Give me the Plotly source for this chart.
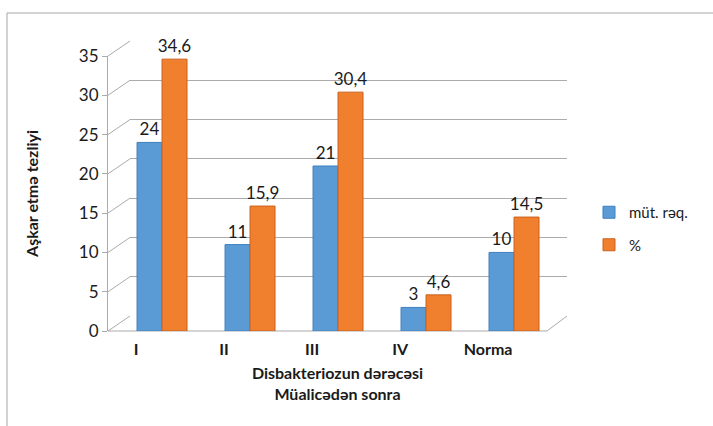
import plotly.graph_objects as go

# ---- data ----
categories = ["I", "II", "III", "IV", "Norma"]
mut_req = [24, 11, 21, 3, 10]
percent = [34.6, 15.9, 30.4, 4.6, 14.5]
series_names = ["müt. rəq.", "%"]
y_ticks = [0, 5, 10, 15, 20, 25, 30, 35]

def fmt(v):
    return f"{v:g}".replace(".", ",")

FONT = "Lato, 'Noto Sans', sans-serif"
TXT = "#1a1a1a"
GRID = "#ABABAB"
BLUE = "#5B9BD5"
ORANGE = "#F07F2E"

# pixel geometry of the canvas
W, H = 713, 426
L, R, T, B = 108, 146, 41, 95
pw = W - L - R   # 459
ph = H - T - B   # 290

def px_x(x):
    return (x - L) / pw

def px_y(y):
    return (H - B - y) / ph

FRONT0, BACK0, SPAN = 331, 316, 275   # pixel rows of the front/back zero and height of 0..35

fig = go.Figure()

# empty trace for the back-wall subplot (gridlines)
fig.add_trace(go.Scatter(x=[], y=[], xaxis="x", yaxis="y", showlegend=False, hoverinfo="skip"))

fig.add_trace(go.Bar(
    x=categories, y=mut_req, name=series_names[0],
    marker=dict(color=BLUE, line=dict(color="#3F7FBF", width=1)),
    text=[fmt(v) for v in mut_req], textposition="outside", constraintext="none",
    textfont=dict(family=FONT, size=17, color=TXT),
    cliponaxis=False, xaxis="x2", yaxis="y2", legendgroup="a",
))
fig.add_trace(go.Bar(
    x=categories, y=percent, name=series_names[1],
    marker=dict(color=ORANGE, line=dict(color="#C9621D", width=1)),
    text=[fmt(v) for v in percent], textposition="outside", constraintext="none",
    textfont=dict(family=FONT, size=17, color=TXT),
    cliponaxis=False, xaxis="x2", yaxis="y2", legendgroup="b",
))
# empty trace for the category-label axis
fig.add_trace(go.Scatter(x=[], y=[], xaxis="x3", yaxis="y2", showlegend=False, hoverinfo="skip"))

shapes = []
# chart border
shapes.append(dict(type="rect", xref="paper", yref="paper",
                   x0=px_x(7), y0=px_y(428), x1=px_x(716), y1=px_y(13),
                   line=dict(color="#A6A6A6", width=1), layer="below"))
# side-wall diagonals at each tick (front axis -> back wall)
for v in y_ticks:
    y_front = FRONT0 - v * SPAN / 35
    y_back = BACK0 - v * SPAN / 35
    shapes.append(dict(type="line", xref="paper", yref="paper",
                       x0=0, y0=px_y(y_front), x1=px_x(130), y1=px_y(y_back),
                       line=dict(color=GRID, width=1), layer="below"))
# floor front edge and right edge
shapes.append(dict(type="line", xref="paper", yref="paper", x0=0, y0=px_y(FRONT0),
                   x1=px_x(547), y1=px_y(FRONT0), line=dict(color=GRID, width=1), layer="below"))
shapes.append(dict(type="line", xref="paper", yref="paper", x0=px_x(547), y0=px_y(FRONT0),
                   x1=px_x(567), y1=px_y(BACK0), line=dict(color=GRID, width=1), layer="below"))

fig.update_layout(
    width=W, height=H, autosize=False,
    margin=dict(l=L, r=R, t=T, b=B),
    paper_bgcolor="white", plot_bgcolor="rgba(0,0,0,0)",
    font=dict(family=FONT, color=TXT),
    barmode="group", bargap=0.432, bargroupgap=0,
    showlegend=True,
    legend=dict(x=px_x(589), y=px_y(196), xanchor="left", yanchor="top",
                font=dict(family=FONT, size=15, color=TXT),
                tracegroupgap=10, itemwidth=30, bgcolor="rgba(0,0,0,0)"),
    shapes=shapes,
    # back wall
    xaxis=dict(domain=[px_x(130), 1], range=[0, 1], visible=False, fixedrange=True),
    yaxis=dict(domain=[px_y(BACK0), 1], range=[0, 35], anchor="x", dtick=5, tick0=0,
               showgrid=True, gridcolor=GRID, gridwidth=1, zeroline=False,
               showticklabels=False, ticks="", showline=False),
    # bars / front axis
    xaxis2=dict(domain=[0, 1], anchor="y2", range=[-0.614, 4.602],
                showticklabels=False, showgrid=False, zeroline=False, showline=False, ticks=""),
    yaxis2=dict(domain=[0, px_y(FRONT0 - SPAN)], anchor="x2", range=[0, 35], tickvals=y_ticks,
                showgrid=False, zeroline=False, showline=True, linecolor=GRID, linewidth=1,
                ticks="outside", ticklen=5, tickcolor=GRID,
                tickfont=dict(family=FONT, size=17, color=TXT),
                title=dict(text="Aşkar etmə tezliyi", standoff=36,
                           font=dict(family=FONT, size=16, color=TXT, weight="bold"))),
    xaxis3=dict(overlaying="x2", anchor="y2", type="linear", range=[-0.319, 4.897],
                tickvals=list(range(len(categories))), ticktext=categories,
                showgrid=False, zeroline=False, showline=False, ticks="",
                ticklabelstandoff=7,
                tickfont=dict(family=FONT, size=16, color=TXT, weight="bold"),
                title=dict(text="Disbakteriozun dərəcəsi<br>Müalicədən sonra", standoff=10,
                           font=dict(family=FONT, size=16, color=TXT, weight="bold"))),
)

fig.write_html("out.html")
